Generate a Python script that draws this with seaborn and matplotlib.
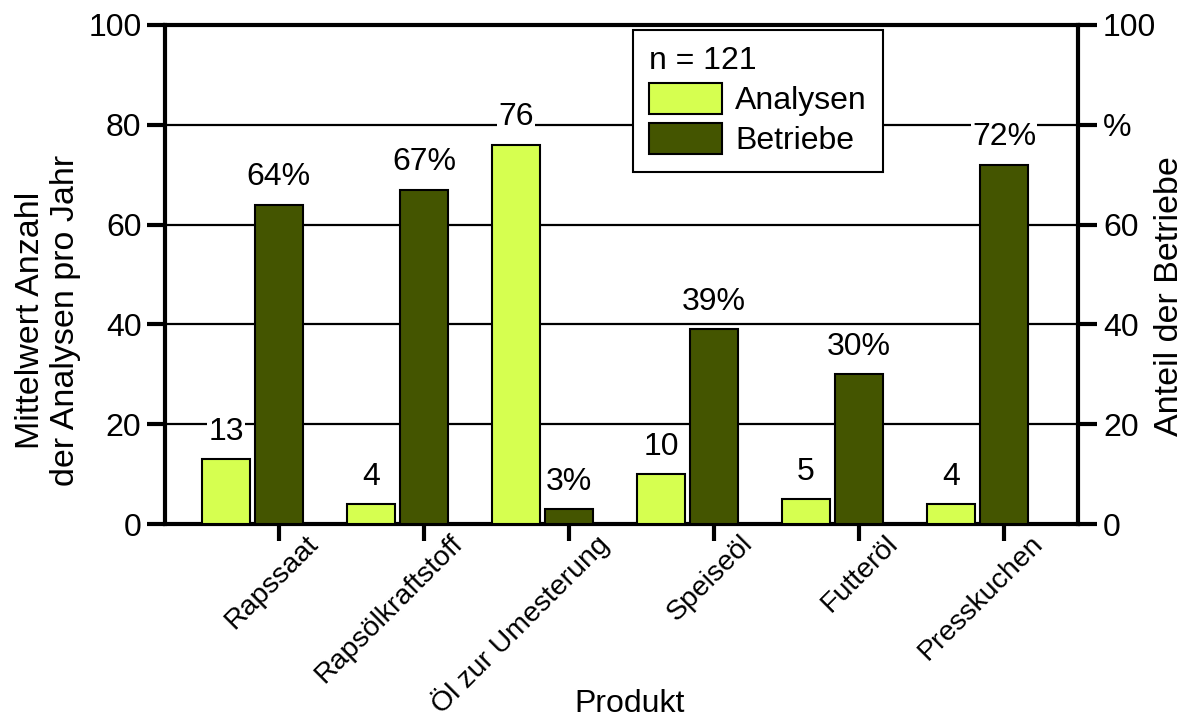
import matplotlib
matplotlib.use("Agg")
import matplotlib.pyplot as plt
import matplotlib.transforms as mtransforms
import seaborn as sns
import pandas as pd

produkte = ["Rapssaat", "Rapsölkraftstoff", "Öl zur Umesterung", "Speiseöl", "Futteröl", "Presskuchen"]
analysen = [13, 4, 76, 10, 5, 4]
betriebe = [64, 67, 3, 39, 30, 72]
serien = ["Analysen", "Betriebe"]
farben = {"Analysen": "#D6FF50", "Betriebe": "#445500"}
y_ticks = [0, 20, 40, 60, 80, 100]
y_ticklabels_left = ["0", "20", "40", "60", "80", "100"]
y_ticklabels_right = ["0", "20", "40", "60", "%", "100"]

df = pd.DataFrame({
    "Produkt": produkte * 2,
    "Serie": [serien[0]] * len(produkte) + [serien[1]] * len(produkte),
    "Wert": analysen + betriebe,
})

sns.set_theme(style="white")
plt.rcParams["font.family"] = ["Liberation Sans", "DejaVu Sans"]
plt.rcParams["text.color"] = "black"
plt.rcParams["axes.labelcolor"] = "black"
plt.rcParams["xtick.color"] = "black"
plt.rcParams["ytick.color"] = "black"
plt.rcParams["legend.labelcolor"] = "black"
FS = 23
FS_X = 20.5
FS_LAB = 24.5

fig = plt.figure(figsize=(11.92, 7.22), dpi=100)
ax = fig.add_axes([165 / 1192, 1 - 524 / 722, 913 / 1192, 499 / 722])

sns.barplot(data=df, x="Produkt", y="Wert", hue="Serie", order=produkte,
            hue_order=serien, palette=farben, width=0.73, gap=0.096,
            edgecolor="black", linewidth=1.5, saturation=1, ax=ax, zorder=3)

ax.set_xlim(-0.603, 5.693)
ax.set_ylim(0, 100)
ax.set_axisbelow(True)
ax.yaxis.grid(True, color="black", linewidth=1.6)
ax.xaxis.grid(False)
for s in ["left", "right", "bottom", "top"]:
    ax.spines[s].set_visible(True)
    ax.spines[s].set_color("black")
    ax.spines[s].set_linewidth(3)

ax.set_yticks(y_ticks)
ax.set_yticklabels(y_ticklabels_left, fontsize=FS, color="black")
ax.tick_params(axis="y", direction="out", length=13, width=3, color="black", pad=4, left=True)

ax.set_xticks([i + 0.183 for i in range(len(produkte))])
ax.set_xticklabels(produkte, rotation=45, ha="right", va="center",
                   rotation_mode="anchor", fontsize=FS_X, color="black")
ax.tick_params(axis="x", direction="out", length=12, width=3, color="black", pad=2, bottom=True)
offset = mtransforms.ScaledTranslation(35 / 100, 4 / 100, fig.dpi_scale_trans)
for lbl in ax.get_xticklabels():
    lbl.set_transform(lbl.get_transform() + offset)

ax.set_xlabel("Produkt", fontsize=FS, color="black")
ax.xaxis.set_label_coords((630 - 165) / 913, (524 - 704) / 499)
ax.xaxis.label.set_va("center")

ax.set_ylabel("Mittelwert Anzahl\nder Analysen pro Jahr", fontsize=FS_LAB, color="black",
              multialignment="center", linespacing=1.15)
ax.yaxis.set_label_coords((48 - 165) / 913, (524 - 320) / 499)
ax.yaxis.label.set_va("center")

ax2 = ax.twinx()
ax2.set_ylim(0, 100)
ax2.set_yticks(y_ticks)
ax2.set_yticklabels(y_ticklabels_right, fontsize=FS, color="black")
ax2.tick_params(axis="y", direction="out", length=14, width=3, color="black", pad=4, right=True)
for s in ax2.spines.values():
    s.set_visible(False)
ax2.grid(False)
ax2.set_ylabel("Anteil der Betriebe", fontsize=FS_LAB, color="black")
ax2.yaxis.set_label_coords((1170 - 165) / 913, (524 - 296) / 499)
ax2.yaxis.label.set_va("center")

box = dict(facecolor="white", edgecolor="none", pad=1)
ax.bar_label(ax.containers[0], labels=[str(v) for v in analysen], padding=9,
             fontsize=FS, color="black", bbox=box, zorder=4)
ax.bar_label(ax.containers[1], labels=[f"{v}%" for v in betriebe], padding=9,
             fontsize=FS, color="black", bbox=box, zorder=4)

leg = ax.legend(title="n = 121", loc="upper left",
                bbox_to_anchor=(633 / 1192, 1 - 30 / 722), bbox_transform=fig.transFigure,
                fontsize=FS, title_fontsize=FS, frameon=True, fancybox=False,
                handlelength=2.3, handleheight=1.1, handletextpad=0.4,
                labelspacing=0.22, borderpad=0.5, borderaxespad=0,
                alignment="left")
leg.get_frame().set_edgecolor("black")
leg.get_frame().set_linewidth(1.5)
leg.get_frame().set_facecolor("white")
leg.get_frame().set_alpha(1)
leg.set_zorder(10)
for t in leg.get_texts():
    t.set_color("black")
leg.get_title().set_color("black")

fig.savefig("out.png", dpi=100)
